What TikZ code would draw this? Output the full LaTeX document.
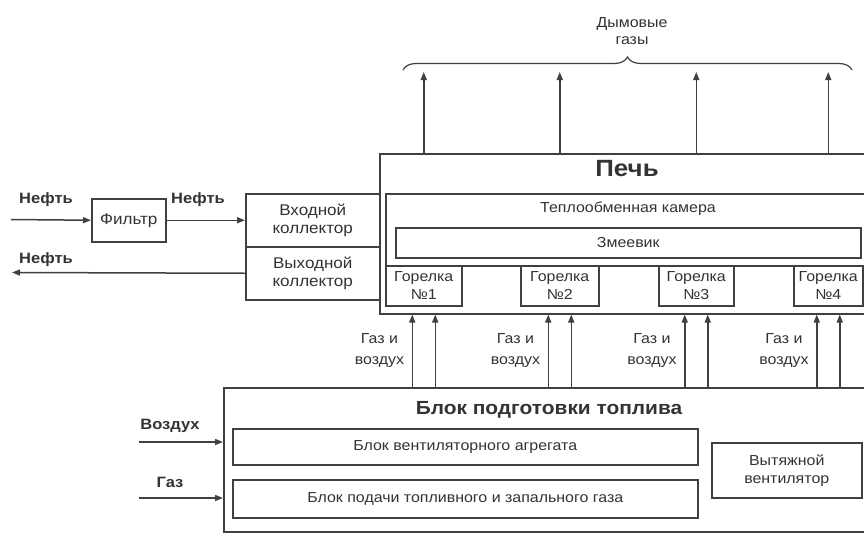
\documentclass[tikz,border=0pt]{standalone}
\usepackage{fontspec}
\setmainfont{Liberation Sans}[FakeStretch=1.1]
\usetikzlibrary{arrows.meta,decorations.pathreplacing}
\begin{document}
\begin{tikzpicture}[x=1pt,y=-1pt,
  ln/.style={draw=black!75,line width=1.5pt},
  txt/.style={text=black!80,font=\fontsize{14.5}{18}\selectfont,align=center,inner sep=0pt},
  btxt/.style={txt,font=\fontsize{15}{18}\selectfont\bfseries},
  box/.style={ln,rectangle,inner sep=0pt,anchor=north west,fill=white,txt},
  arr/.style={ln,-{Triangle[length=8pt,width=6pt]}},
]
\clip (0,0) rectangle (864,533);
\fill[white] (0,0) rectangle (864,533);

% furnace
\node[box,minimum width=520,minimum height=160] (furnace) at (379,153) {};
\node[box,minimum width=510,minimum height=72] (chamber) at (385,193) {};
\node[box,minimum width=465,minimum height=30] (coil) at (395,227) {Змеевик};
\node[box,minimum width=76,minimum height=40] (b1) at (385,265) {Горелка\\№1};
\node[box,minimum width=78,minimum height=40] (b2) at (520,265) {Горелка\\№2};
\node[box,minimum width=75,minimum height=40] (b3) at (658,265) {Горелка\\№3};
\node[box,minimum width=69,minimum height=40] (b4) at (793,265) {Горелка\\№4};
\node[btxt,font=\fontsize{23.5}{26}\selectfont\bfseries] (tpech) at (627,169) {Печь};
\node[txt] (tchamber) at (628,209) {Теплообменная камера};

% oil path
\node[box,minimum width=74,minimum height=43,font=\fontsize{15.5}{18}\selectfont] (filter) at (91,198) {Фильтр};
\node[box,minimum width=134,minimum height=53,font=\fontsize{15.5}{18}\selectfont] (inlet) at (245,193) {Входной\\коллектор};
\node[box,minimum width=134,minimum height=53,font=\fontsize{15.5}{18}\selectfont] (outlet) at (245,246) {Выходной\\коллектор};
\coordinate (oilin) at (11,219.5);
\coordinate (oilout) at (12,272.5);
\draw[arr] (oilin) -- (filter.west);
\draw[arr] (filter.east) -- (inlet.west);
\draw[arr] (outlet.west) -- (oilout);
\node[btxt] (l1) at (46,200) {Нефть};
\node[btxt] (l2) at (198,200) {Нефть};
\node[btxt] (l3) at (46,260) {Нефть};

% fuel block
\node[box,minimum width=680,minimum height=144] (fuel) at (223,387) {};
\node[btxt,font=\fontsize{19}{22}\selectfont\bfseries] (tfuel) at (549,410) {Блок подготовки топлива};
\node[box,minimum width=465,minimum height=36] (vent) at (232,428) {Блок вентиляторного агрегата};
\node[box,minimum width=465,minimum height=38] (supply) at (232,479) {Блок подачи топливного и запального газа};
\node[box,minimum width=150,minimum height=55] (exhaust) at (711,442) {Вытяжной\\вентилятор};
\coordinate (airin) at (139,442);
\coordinate (gasin) at (139,498);
\draw[arr] (airin) -- (airin -| fuel.west);
\draw[arr] (gasin) -- (gasin -| fuel.west);
\node[btxt] (lair) at (170,426) {Воздух};
\node[btxt] (lgas) at (170,482) {Газ};

% gas and air to burners
\foreach \b in {b1,b2,b3,b4} {
  \draw[arr] ([xshift=-11.5pt]\b.south |- fuel.north) -- ([xshift=-11.5pt]\b.south |- furnace.south);
  \draw[arr] ([xshift=11.5pt]\b.south |- fuel.north) -- ([xshift=11.5pt]\b.south |- furnace.south);
  \node[txt,anchor=east,font=\fontsize{14.5}{21}\selectfont] (ga\b) at ([xshift=-19.5pt,yshift=-44pt]\b.south) {Газ и\\воздух};
}

% flue gases
\coordinate (top) at (0,72);
\foreach \b in {b1,b2,b3,b4} {
  \draw[arr] (\b.south |- furnace.north) -- (\b.south |- top);
}
\coordinate (brl) at (403,70);
\coordinate (brr) at (852,70);
\draw[draw=black!75,line width=1.2pt,decorate,decoration={brace,amplitude=13pt}] (brl) -- (brr);
\node[txt,font=\fontsize{14.5}{17}\selectfont] (tflue) at (632,31) {Дымовые\\газы};
\end{tikzpicture}
\end{document}
